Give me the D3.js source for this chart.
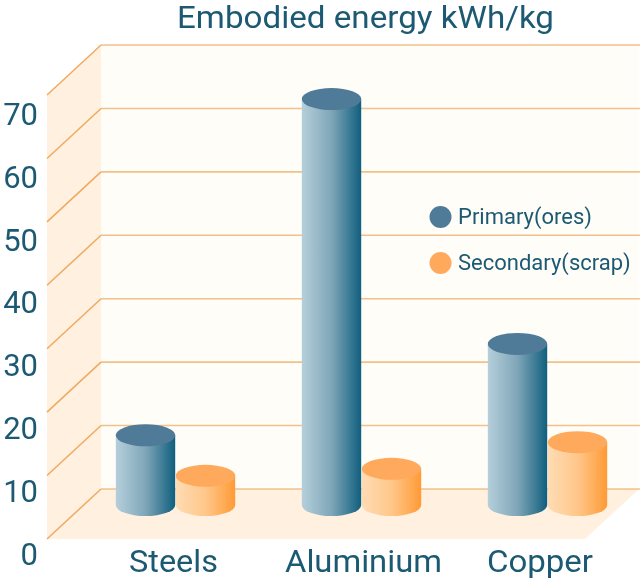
<!DOCTYPE html>
<html lang="en">
<head>
    <meta charset="UTF-8">
    <title>Embodied energy</title>
    <style>
        html,body {
            margin : 0px;
            padding: 0px;
            background: #fff;
        }
        svg { display: block; filter: blur(0.4px); }
        text { font-family: Roboto, sans-serif; fill: #1c5a73; }
        .domain { display: none; }
    </style>
    <script src="https://cdn.jsdelivr.net/npm/d3@7"></script>
</head>
<body>
<svg></svg>
<script>
    const W = 644, H = 582;

    const categories = ['Steels', 'Aluminium', 'Copper'];
    const primary = [11, 64, 25.4];
    const secondary = [4.6, 5.7, 9.9];
    const yTicks = [0, 10, 20, 30, 40, 50, 60, 70];
    const seriesNames = ['Primary(ores)', 'Secondary(scrap)'];

    const svg = d3.select('svg').attr('width', W).attr('height', H);

    // value scale is read on the back wall
    const y = d3.scaleLinear().domain([0, 70]).range([489, 45]);
    const x = d3.scalePoint().domain(categories).range([175.5, 547.5]);
    // tick labels step a bit tighter than the grid in the picture
    const yLabel = d3.scaleLinear().domain([0, 70]).range([553, 113]);

    const wallL = 101, wallR = 639, sideL = 47, sideDrop = 50, floorR = 585;
    const rx = 29.7, ry = 11, barDepth = 16;

    const defs = svg.append('defs');
    const addGrad = (id, from, mid, to) => {
        const g = defs.append('linearGradient').attr('id', id);
        g.append('stop').attr('offset', '0%').attr('stop-color', from);
        g.append('stop').attr('offset', '50%').attr('stop-color', mid);
        g.append('stop').attr('offset', '100%').attr('stop-color', to);
    };
    addGrad('gradPrimary', '#b5cfdb', '#7fa6b8', '#105f7e');
    addGrad('gradSecondary', '#ffdcb5', '#ffc78a', '#ff9a36');

    // walls and floor
    const walls = svg.append('g');
    walls.append('rect').attr('x', wallL).attr('y', y(70))
        .attr('width', wallR - wallL).attr('height', y(0) - y(70)).attr('fill', '#fffdf8');
    walls.append('path').attr('fill', '#fff0df')
        .attr('d', `M${wallL},${y(70)}L${sideL},${y(70) + sideDrop}L${sideL},${y(0) + sideDrop}L${wallL},${y(0)}Z`);
    walls.append('path').attr('fill', '#fff0df')
        .attr('d', `M${wallL},${y(0)}L${sideL},${y(0) + sideDrop}L${floorR},${y(0) + sideDrop}L${wallR},${y(0)}Z`);

    // grid
    const grid = svg.append('g').attr('fill', 'none');
    grid.selectAll('.back').data(yTicks).enter().append('line').attr('class', 'back')
        .attr('x1', wallL).attr('x2', wallR + 1)
        .attr('y1', d => y(d)).attr('y2', d => y(d))
        .attr('stroke', '#f2c08a').attr('stroke-width', 1.6);
    grid.selectAll('.side').data(yTicks).enter().append('line').attr('class', 'side')
        .attr('x1', wallL).attr('x2', sideL)
        .attr('y1', d => y(d)).attr('y2', d => y(d) + sideDrop)
        .attr('stroke', '#eeaa62').attr('stroke-width', 1.5);

    const axis = d3.axisLeft(yLabel).tickValues(yTicks).tickSize(0).tickPadding(0);
    const axisG = svg.append('g').attr('transform', 'translate(38,1.5)').call(axis);
    axisG.selectAll('text').attr('font-size', 31).style('font-family', 'Roboto, sans-serif').style('fill', '#1c5a73');

    const cylinder = (cx, value, grad, topColor) => {
        const top = y(value) + barDepth, bottom = y(0) + barDepth;
        const g = svg.append('g');
        g.append('path').attr('fill', `url(#${grad})`)
            .attr('d', `M${cx - rx},${top}L${cx - rx},${bottom}A${rx},${ry} 0 0 0 ${cx + rx},${bottom}L${cx + rx},${top}Z`);
        g.append('ellipse').attr('cx', cx).attr('cy', top).attr('rx', rx).attr('ry', ry).attr('fill', topColor);
    };

    categories.forEach((c, i) => {
        cylinder(x(c) - 30, primary[i], 'gradPrimary', '#4f7b99');
        cylinder(x(c) + 30, secondary[i], 'gradSecondary', '#ffa95c');
    });

    // category labels, the picture is stretched a little wide
    const labelNudge = [-2, 2, -7.5];
    const labelWidth = [89, 157, 106];
    svg.append('g').selectAll('text').data(categories).enter().append('text')
        .attr('x', (d, i) => x(d) + labelNudge[i]).attr('y', 572)
        .attr('text-anchor', 'middle').attr('font-size', 32)
        .attr('textLength', (d, i) => labelWidth[i]).attr('lengthAdjust', 'spacingAndGlyphs')
        .text(d => d);

    svg.append('text').attr('x', 365.5).attr('y', 27.5)
        .attr('text-anchor', 'middle').attr('font-size', 30.5)
        .attr('textLength', 377).attr('lengthAdjust', 'spacingAndGlyphs')
        .text('Embodied energy kWh/kg');

    // legend
    const legend = svg.append('g').selectAll('g').data(seriesNames).enter().append('g')
        .attr('transform', (d, i) => `translate(440.5,${217 + i * 46})`);
    legend.append('circle').attr('r', 11).attr('fill', (d, i) => i ? '#ffa95c' : '#4f7b99');
    legend.append('text').attr('x', 17.5).attr('y', 7).attr('font-size', 22).text(d => d);
</script>
</body>
</html>
